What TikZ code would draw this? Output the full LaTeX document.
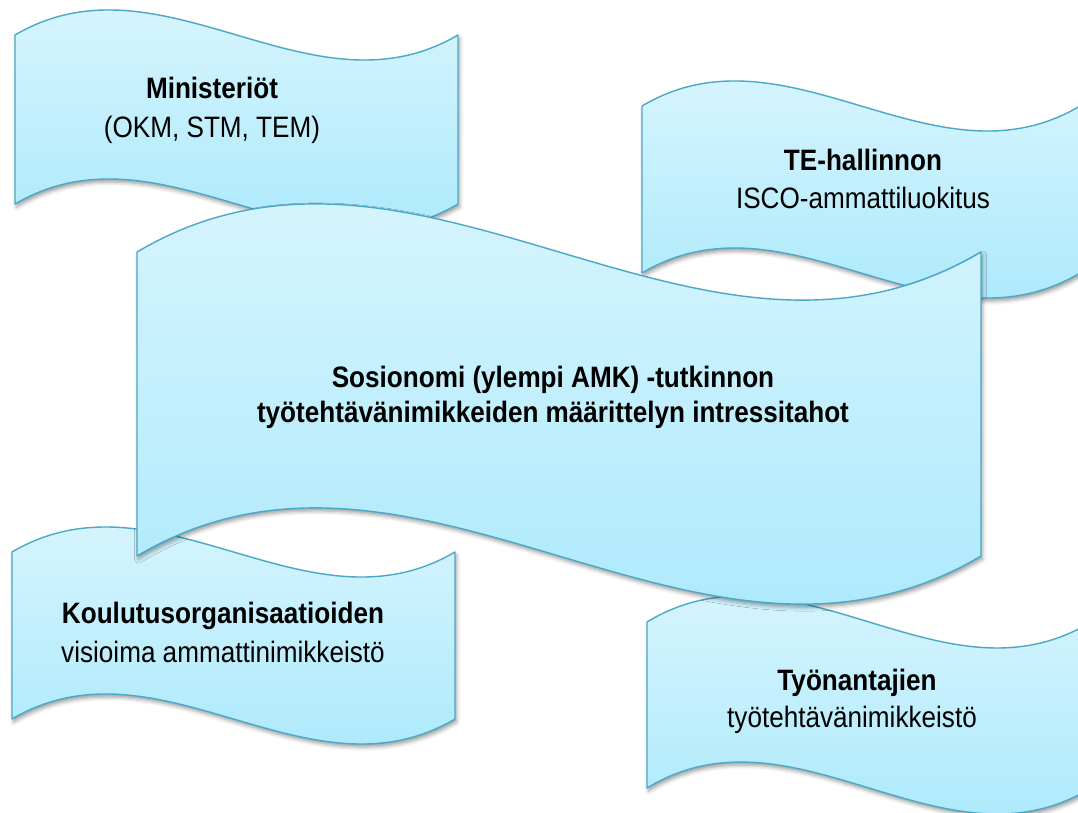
\documentclass[tikz,border=0pt]{standalone}
\usepackage{fontspec}
\setmainfont{Liberation Sans}[FakeStretch=0.885]
\usetikzlibrary{shadows.blur}
\definecolor{waveline}{RGB}{75,168,198}
\definecolor{wavetop}{RGB}{224,247,254}
\definecolor{wavebot}{RGB}{163,231,251}
\tikzset{
  wavestyle/.style={draw=waveline, line width=1.4pt, line join=round,
    top color=wavetop, bottom color=wavebot,
    blur shadow={shadow xshift=1.5pt, shadow yshift=-3pt, shadow blur radius=4pt, shadow opacity=40}},
  lab/.style={anchor=base, inner sep=0pt, text=black, font=\fontsize{29.5}{35}\selectfont},
  labb/.style={anchor=base, inner sep=0pt, text=black, font=\fontsize{29.5}{35}\selectfont\bfseries}
}
% #1 left x, #2 right x, #3 top end y, #4 bottom end y, #5 amplitude
\newcommand\wave[5]{%
  \path[wavestyle] (#1,#3) .. controls ({#1+(#2-#1)/3},{#3-10*#5/3}) and ({#1+2*(#2-#1)/3},{#3+10*#5/3}) .. (#2,#3)
   -- (#2,#4) .. controls ({#1+2*(#2-#1)/3},{#4+10*#5/3}) and ({#1+(#2-#1)/3},{#4-10*#5/3}) .. (#1,#4) -- cycle;}
\begin{document}
\begin{tikzpicture}[x=1pt,y=-1pt]
\useasboundingbox (0,0) rectangle (1078,812);
\clip (0,0) rectangle (1078,812);
% Ministeriot
\wave{15}{458}{35}{204}{26}
% TE-hallinnon
\wave{642}{1080}{106}{273}{26}
% Koulutusorganisaatioiden
\wave{12}{455}{552}{719}{26}
% Tyonantajien
\wave{647}{1091}{622}{788}{27}
% central
\wave{137}{981}{252}{556}{50}

\node[labb] (m1) at (212,98) {Ministeriöt};
\node[lab]  (m2) at (212,137) {(OKM, STM, TEM)};
\node[labb] (t1) at (863,170) {TE-hallinnon};
\node[lab]  (t2) at (863,208) {ISCO-ammattiluokitus};
\node[labb] (c1) at (553,387) {Sosionomi (ylempi AMK) -tutkinnon};
\node[labb] (c2) at (553,422) {työtehtävänimikkeiden määrittelyn intressitahot};
\node[labb] (k1) at (223,623) {Koulutusorganisaatioiden};
\node[lab]  (k2) at (223,662) {visioima ammattinimikkeistö};
\node[labb] (y1) at (857,690) {Työnantajien};
\node[lab]  (y2) at (852,727) {työtehtävänimikkeistö};
\end{tikzpicture}
\end{document}
